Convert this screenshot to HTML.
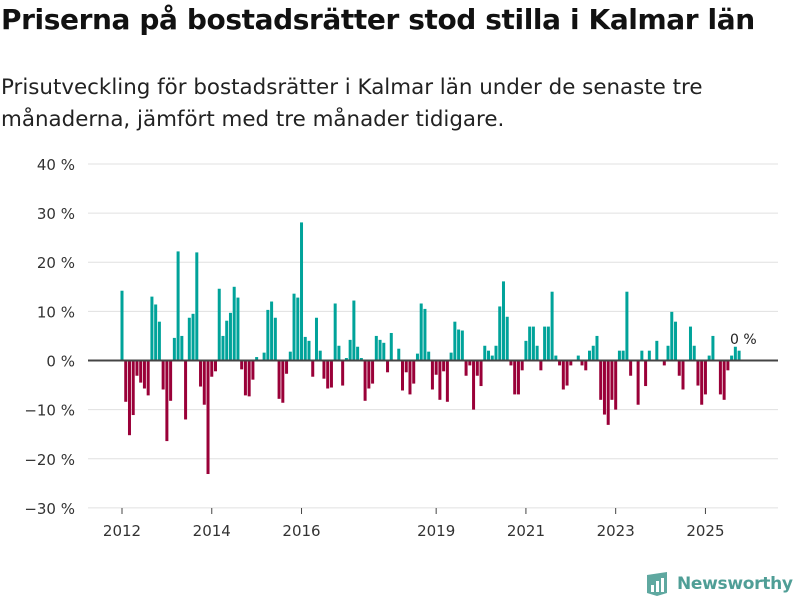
<!DOCTYPE html>
<html><head><meta charset="utf-8"><style>
body{margin:0;width:800px;height:600px;background:#fff;font-family:"DejaVu Sans",sans-serif;overflow:hidden;position:relative}
h1{position:absolute;left:1px;top:3px;margin:0;font-size:28px;font-weight:bold;color:#111;letter-spacing:-0.4px;white-space:nowrap}
p{position:absolute;left:1px;top:72px;margin:0;font-size:21.4px;line-height:32px;color:#222;width:760px}
svg{position:absolute;left:0;top:0}
</style></head><body>
<h1>Priserna på bostadsrätter stod stilla i Kalmar län</h1>
<p>Prisutveckling för bostadsrätter i Kalmar län under de senaste tre månaderna, jämfört med tre månader tidigare.</p>
<svg id="chart" width="800" height="600"></svg>
<script>
const values=[14.2,-8.4,-15.2,-11.1,-3.1,-4.5,-5.7,-7.1,13.0,11.4,7.9,-5.9,-16.4,-8.2,4.6,22.2,5.0,-12.0,8.7,9.5,22.0,-5.3,-9.0,-23.1,-3.3,-2.2,14.6,5.0,8.1,9.7,15.0,12.8,-1.8,-7.1,-7.3,-3.9,0.7,0,1.6,10.3,12.0,8.7,-7.8,-8.6,-2.7,1.8,13.6,12.8,28.1,4.8,4.0,-3.3,8.7,2.0,-3.7,-5.7,-5.5,11.6,3.0,-5.1,0.5,4.2,12.2,2.8,0.5,-8.2,-5.7,-4.7,5.0,4.2,3.6,-2.4,5.6,0,2.4,-6.1,-2.4,-6.9,-4.7,1.4,11.6,10.5,1.8,-5.9,-2.9,-8.0,-2.2,-8.4,1.6,7.9,6.3,6.1,-3.1,-1.0,-10.0,-3.1,-5.2,3.0,2.0,1.0,3.0,11.0,16.1,8.9,-1.0,-6.9,-6.9,-2.0,4.0,6.9,6.9,3.0,-2.0,6.9,6.9,14.0,1.0,-1.0,-5.9,-5.1,-1.0,0,1.0,-1.0,-2.0,2.0,3.0,5.0,-8.0,-11.0,-13.1,-8.0,-10.0,2.0,2.0,14.0,-3.1,0,-9.0,2.0,-5.2,2.0,0,4.0,0,-1.0,3.0,9.9,7.9,-3.1,-5.9,0,6.9,3.0,-5.1,-9.0,-6.9,1.0,5.0,0,-6.9,-8.0,-2.0,1.0,2.8,2.0];
const yTicks=[40,30,20,10,0,-10,-20,-30];
const xTickLabels=["2012","2014","2016","2019","2021","2023","2025"];
const xTickIndex=[0,24,48,84,108,132,156];
const NS="http://www.w3.org/2000/svg";
const svg=document.getElementById('chart');
const y=v=>360.5-v*4.914;
const x=i=>122+3.74*i;
function mk(t,a){const e=document.createElementNS(NS,t);for(const k in a)e.setAttribute(k,a[k]);svg.appendChild(e);return e;}
yTicks.forEach(t=>{
  const g=mk('line',{x1:88,x2:778,y1:y(t),y2:y(t),stroke:'#e0e0e0','stroke-width':1});
  
  
  const l=mk('text',{x:75,y:y(t)+6,'text-anchor':'end','font-size':15,fill:'#333','font-family':'DejaVu Sans, sans-serif'});
  l.textContent=(t<0?'\u2212'+(-t):t)+' %';
  
  
});
values.forEach((v,i)=>{
  const r=mk('rect',{x:x(i)-1.5,width:3,y:v>=0?y(v):y(0),height:Math.abs(y(v)-y(0)),fill:v>=0?'#00a39a':'#9a0038'});
  
  
});
const z=mk('line',{x1:88,x2:778,y1:y(0),y2:y(0),stroke:'#444','stroke-width':2});


xTickIndex.forEach((ix,k)=>{
  const tk=mk('line',{x1:x(ix),x2:x(ix),y1:508,y2:514,stroke:'#444','stroke-width':1});
  
  
  const t=mk('text',{x:x(ix),y:536,'text-anchor':'middle','font-size':15,fill:'#333','font-family':'DejaVu Sans, sans-serif'});
  t.textContent=xTickLabels[k];
  
  
});
const ann=mk('text',{x:730,y:344,'font-size':14,fill:'#222','font-family':'DejaVu Sans, sans-serif'});
ann.textContent='0 %';


</script>
<div style="position:absolute;left:645px;top:569px;height:30px;display:flex;align-items:center">
<svg width="24" height="26" style="position:static"><path d="M2 4 L22 1 L22 22 L12 25 L2 22 Z" fill="#5fa8a0"/><rect x="6" y="14" width="3" height="7" fill="#fff"/><rect x="11" y="10" width="3" height="11" fill="#fff"/><rect x="16" y="7" width="3" height="14" fill="#fff"/></svg>
<span style="font-size:17px;font-weight:bold;color:#4f9e96;margin-left:8px;letter-spacing:-0.3px;font-family:'DejaVu Sans',sans-serif">Newsworthy</span></div>
</body></html>
